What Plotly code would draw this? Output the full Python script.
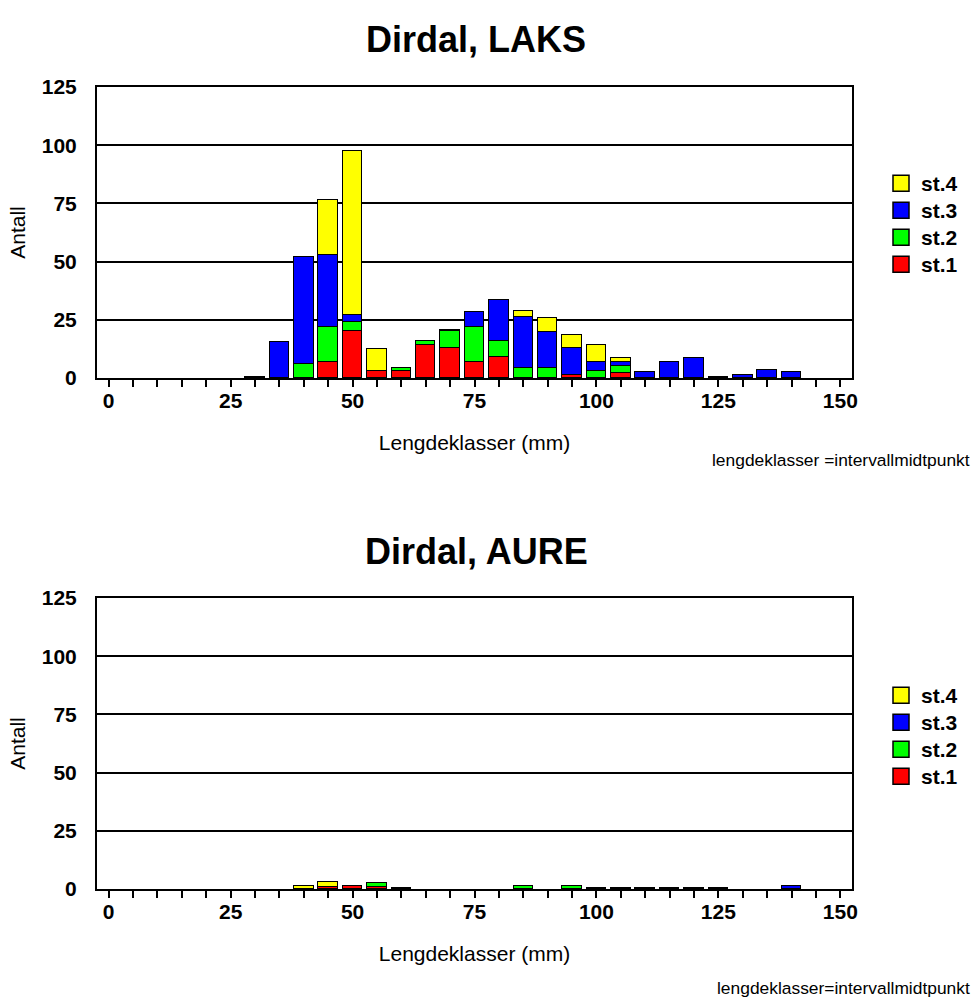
import plotly.graph_objects as go

lengths = list(range(0, 155, 5))

# Dirdal, LAKS  (st.1 .. st.4), index = length class 0..150 step 5
laks_st1 = [0, 0, 0, 0, 0, 0, 0, 0, 0, 7, 20, 3, 3, 14, 13, 7, 9, 0, 0, 1.1, 0, 2, 0, 0, 0, 0, 0, 0, 0, 0, 0]
laks_st2 = [0, 0, 0, 0, 0, 0, 0, 0, 6, 15, 4, 0, 1.5, 2, 7, 15, 7, 4.5, 4.5, 0, 3.2, 3, 0, 0, 0, 0, 0, 0, 0, 0, 0]
laks_st3 = [0, 0, 0, 0, 0, 0, 0.6, 15.5, 46, 31, 3, 0, 0, 0, 0.7, 6.5, 17.5, 21.5, 15.3, 11.8, 3.6, 1.8, 2.6, 6.9, 8.8, 0.6, 1.2, 3.3, 2.6, 0, 0]
laks_st4 = [0, 0, 0, 0, 0, 0, 0, 0, 0, 23.5, 70.5, 9.5, 0, 0, 0, 0, 0, 2.7, 6, 5.5, 7.4, 1.8, 0, 0, 0, 0, 0, 0, 0, 0, 0]

# Dirdal, AURE
aure_st1 = [0, 0, 0, 0, 0, 0, 0, 0, 0, 0.7, 1.2, 0.7, 0.4, 0, 0, 0, 0, 0, 0, 0, 0.4, 0.4, 0.4, 0.4, 0.4, 0.4, 0, 0, 0, 0, 0]
aure_st2 = [0, 0, 0, 0, 0, 0, 0, 0, 0, 0, 0, 1.8, 0, 0, 0, 0, 0, 1.3, 0, 1.3, 0, 0, 0, 0, 0, 0, 0, 0, 0, 0, 0]
aure_st3 = [0, 0, 0, 0, 0, 0, 0, 0, 0, 0, 0, 0, 0, 0, 0, 0, 0, 0, 0, 0, 0, 0, 0, 0, 0, 0, 0, 0, 1.3, 0, 0]
aure_st4 = [0, 0, 0, 0, 0, 0, 0, 0, 1.3, 2.3, 0, 0, 0, 0, 0, 0, 0, 0, 0, 0, 0, 0, 0, 0, 0, 0, 0, 0, 0, 0, 0]

series_names = ["st.1", "st.2", "st.3", "st.4"]
colors = ["#ff0000", "#00ff00", "#0000ff", "#ffff00"]

x_ticks = [0, 25, 50, 75, 100, 125, 150]
y_ticks = [0, 25, 50, 75, 100, 125]

FONT = "Arial, 'Liberation Sans', sans-serif"
W, H = 974, 1003
TICK_SIZE = 21
TITLE_SIZE = 36
NOTE_SIZE = 17.4

fig = go.Figure()
layout_legends = {}

def ypx(p):
    return 1 - p / H

def add_chart(data, xa, ya, legend_ids, legend_tops):
    for vals, name, col in zip(data, series_names, colors):
        xs = [l for l, v in zip(lengths, vals) if v > 0]
        ys = [v for v in vals if v > 0]
        fig.add_trace(go.Bar(
            x=xs, y=ys, name=name, width=4,
            marker=dict(color=col, line=dict(color="black", width=1.5)),
            xaxis=xa, yaxis=ya, showlegend=False,
        ))
    # legend entries, st.4 on top, each in its own legend box
    items = list(reversed(list(zip(series_names, colors))))
    for (name, col), lid, top in zip(items, legend_ids, legend_tops):
        fig.add_trace(go.Scatter(
            x=[None], y=[None], mode="markers", name=name,
            marker=dict(symbol="square", size=18, color=col, line=dict(color="black", width=1.5)),
            xaxis=xa, yaxis=ya, legend=lid, showlegend=True,
        ))
        layout_legends[lid] = dict(
            x=881 / W, y=ypx(top), xanchor="left", yanchor="top",
            font=dict(family=FONT, size=TICK_SIZE, color="black", weight="bold"),
            bgcolor="rgba(0,0,0,0)",
        )

add_chart([laks_st1, laks_st2, laks_st3, laks_st4], "x", "y",
          ["legend", "legend2", "legend3", "legend4"], [163, 190, 217, 244])
add_chart([aure_st1, aure_st2, aure_st3, aure_st4], "x2", "y2",
          ["legend5", "legend6", "legend7", "legend8"], [675, 702, 729, 756])

xdom = [97 / W, 852 / W]

def xaxis_cfg(anchor):
    return dict(
        domain=xdom, anchor=anchor, range=[-2.4, 152.4],
        tickmode="array", tickvals=x_ticks, ticktext=[str(t) for t in x_ticks],
        ticks="outside", ticklen=7, tickwidth=1.5, tickcolor="black",
        ticklabelstandoff=-4,
        minor=dict(dtick=5, tick0=0, ticks="outside", ticklen=7, tickwidth=1.5, tickcolor="black"),
        tickfont=dict(family=FONT, size=TICK_SIZE, color="black", weight="bold"),
        showline=True, mirror=True, linecolor="black", linewidth=2,
        showgrid=False, zeroline=False, automargin=False,
        title=dict(text="Lengdeklasser (mm)", font=dict(family=FONT, size=TICK_SIZE, color="black"), standoff=24),
        fixedrange=True,
    )

def yaxis_cfg(anchor, dom):
    return dict(
        domain=dom, anchor=anchor, range=[0, 125],
        tickmode="array", tickvals=y_ticks, ticktext=[str(t) for t in y_ticks],
        ticks="", ticklabelstandoff=14,
        tickfont=dict(family=FONT, size=TICK_SIZE, color="black", weight="bold"),
        showline=True, mirror=True, linecolor="black", linewidth=2,
        showgrid=True, gridcolor="black", gridwidth=1.5, zeroline=False, automargin=False,
        title=dict(text="Antall", font=dict(family=FONT, size=TICK_SIZE, color="black"), standoff=10),
        fixedrange=True,
    )

fig.update_layout(
    width=W, height=H, margin=dict(l=0, r=0, t=0, b=0),
    paper_bgcolor="white", plot_bgcolor="white",
    barmode="stack", bargap=0,
    font=dict(family=FONT, color="black"),
    xaxis=xaxis_cfg("y"),
    yaxis=yaxis_cfg("x", [ypx(378), ypx(87)]),
    xaxis2=xaxis_cfg("y2"),
    yaxis2=yaxis_cfg("x2", [ypx(889), ypx(598)]),
    annotations=[
        dict(text="Dirdal, LAKS", x=476 / W, y=ypx(40), xref="paper", yref="paper",
             xanchor="center", yanchor="middle",
             showarrow=False, font=dict(family=FONT, size=TITLE_SIZE, color="black", weight="bold")),
        dict(text="Dirdal, AURE", x=476 / W, y=ypx(551), xref="paper", yref="paper",
             xanchor="center", yanchor="middle",
             showarrow=False, font=dict(family=FONT, size=TITLE_SIZE, color="black", weight="bold")),
        dict(text="lengdeklasser =intervallmidtpunkt", x=972 / W, y=ypx(460), xref="paper", yref="paper",
             xanchor="right", yanchor="middle", showarrow=False,
             font=dict(family=FONT, size=NOTE_SIZE, color="black")),
        dict(text="lengdeklasser=intervallmidtpunkt", x=972 / W, y=ypx(988), xref="paper", yref="paper",
             xanchor="right", yanchor="middle", showarrow=False,
             font=dict(family=FONT, size=NOTE_SIZE, color="black")),
    ],
    **layout_legends,
)

fig.write_html("out.html")
